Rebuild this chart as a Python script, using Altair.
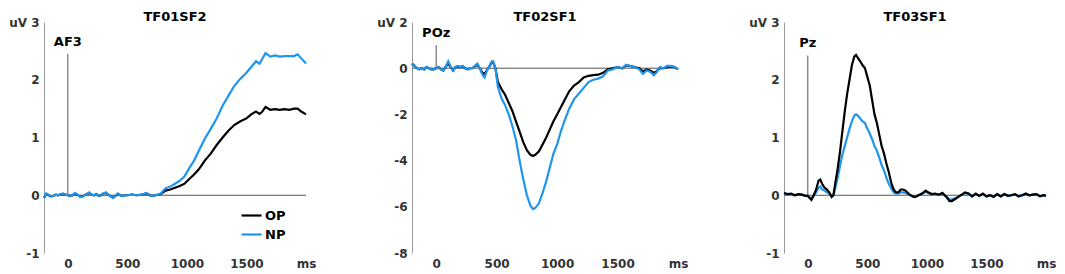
import altair as alt
import pandas as pd

FONT = "DejaVu Sans"
BLACK = "#000000"
BLUE = "#1E96F0"

titles = ["TF01SF2", "TF02SF1", "TF03SF1"]
electrodes = ["AF3", "POz", "Pz"]
marker_tops = [2.45, 1.0, 2.42]
y_domains = [[-1, 3], [-8, 2], [-1, 3]]
y_ticks = [[-1, 0, 1, 2, 3], [-8, -6, -4, -2, 0, 2], [-1, 0, 1, 2, 3]]
x_ticks = [0, 500, 1000, 1500, 2000]
conditions = ["OP", "NP"]

# Panel 1 (AF3)
t1 = [-200, -180, -160, -140, -120, -100, -80, -60, -40, -20, 0, 20, 40, 60, 80, 100, 120, 140, 160, 180,
      200, 220, 240, 260, 280, 300, 320, 340, 360, 380, 400, 420, 440, 460, 480, 500, 540, 580, 620, 660,
      700, 740, 780, 820, 860, 900, 940, 980, 1020, 1060, 1100, 1150, 1200, 1250, 1300, 1350, 1400, 1450,
      1500, 1540, 1580, 1610, 1630, 1660, 1700, 1740, 1780, 1820, 1860, 1900, 1930, 1960, 2000]
np1 = [-0.05, 0.03, 0.0, -0.02, -0.01, 0.01, 0.0, 0.02, 0.03, 0.01, 0.0, -0.01, 0.0, 0.04, 0.01, -0.02,
       -0.03, 0.0, 0.02, 0.05, 0.01, 0.0, 0.02, -0.01, 0.0, 0.03, 0.05, 0.01, -0.02, -0.05, -0.01, 0.03,
       0.0, -0.01, 0.0, 0.0, 0.01, 0.0, 0.01, 0.04, -0.01, 0.0, 0.03, 0.12, 0.15, 0.2, 0.25, 0.33, 0.47,
       0.6, 0.77, 0.98, 1.15, 1.33, 1.55, 1.73, 1.9, 2.02, 2.12, 2.22, 2.32, 2.28, 2.35, 2.46, 2.4, 2.42,
       2.4, 2.41, 2.41, 2.41, 2.44, 2.37, 2.28]
op1 = [-0.04, 0.02, 0.0, -0.02, -0.01, 0.01, 0.0, 0.02, 0.02, 0.01, 0.0, -0.01, 0.0, 0.03, 0.01, -0.02,
       -0.02, 0.0, 0.02, 0.04, 0.01, 0.0, 0.02, -0.01, 0.0, 0.03, 0.04, 0.01, -0.02, -0.04, -0.01, 0.02,
       0.0, -0.01, 0.0, 0.0, 0.01, 0.0, 0.01, 0.03, -0.01, 0.0, 0.02, 0.08, 0.1, 0.13, 0.16, 0.2, 0.28,
       0.36, 0.45, 0.6, 0.72, 0.87, 1.0, 1.12, 1.22, 1.28, 1.33, 1.4, 1.45, 1.41, 1.44, 1.53, 1.48, 1.49,
       1.48, 1.49, 1.48, 1.5, 1.5, 1.45, 1.4]

# Panel 2 (POz)
t2 = [-200, -180, -160, -140, -120, -100, -80, -60, -40, -20, 0, 20, 40, 60, 80, 100, 120, 140, 160, 180,
      200, 220, 240, 260, 280, 300, 320, 340, 360, 380, 400, 420, 440, 460, 470, 490, 510, 540, 570, 600,
      630, 660, 690, 720, 750, 780, 800, 820, 850, 880, 910, 940, 970, 1000, 1030, 1060, 1100, 1140, 1180,
      1220, 1260, 1300, 1340, 1380, 1420, 1460, 1500, 1540, 1570, 1600, 1640, 1680, 1710, 1740, 1770, 1800,
      1820, 1850, 1880, 1910, 1940, 1970, 2000]
np2 = [0.2, 0.1, 0.0, -0.05, 0.0, -0.05, 0.05, 0.0, -0.05, -0.05, 0.0, 0.05, -0.05, -0.1, 0.1, 0.3, 0.05,
       -0.1, 0.05, 0.1, 0.05, 0.1, 0.0, -0.05, 0.0, 0.0, 0.1, 0.2, 0.0, -0.25, -0.4, -0.1, 0.1, 0.3, 0.3,
       0.0, -0.8, -1.3, -1.6, -2.0, -2.5, -3.1, -4.0, -4.8, -5.5, -5.95, -6.1, -6.05, -5.85, -5.4, -4.9,
       -4.3, -3.7, -3.3, -2.75, -2.3, -1.75, -1.35, -1.1, -0.85, -0.6, -0.5, -0.45, -0.35, -0.1, -0.05,
       0.05, 0.0, 0.15, 0.1, 0.05, -0.05, -0.25, -0.1, -0.15, -0.3, -0.2, 0.05, 0.0, 0.1, 0.1, 0.05, -0.05]
op2 = [0.2, 0.1, 0.0, -0.05, 0.0, -0.05, 0.05, 0.0, -0.05, -0.05, 0.0, 0.05, -0.05, -0.1, 0.08, 0.2, 0.05,
       -0.1, 0.05, 0.08, 0.05, 0.08, 0.0, -0.05, 0.0, 0.0, 0.08, 0.15, 0.0, -0.18, -0.25, -0.08, 0.08, 0.25,
       0.28, 0.0, -0.6, -0.9, -1.15, -1.5, -1.85, -2.3, -2.75, -3.2, -3.55, -3.75, -3.8, -3.75, -3.6, -3.3,
       -3.0, -2.65, -2.3, -2.0, -1.7, -1.4, -1.0, -0.75, -0.6, -0.4, -0.33, -0.3, -0.28, -0.2, -0.05, 0.0,
       0.05, 0.0, 0.12, 0.1, 0.05, 0.0, -0.15, -0.05, -0.1, -0.2, -0.15, 0.0, 0.0, 0.05, 0.08, 0.05, -0.05]

# Panel 3 (Pz)
t3 = [-200, -170, -140, -110, -80, -50, -20, 0, 15, 30, 50, 70, 90, 105, 120, 140, 160, 180, 200, 215, 230,
      250, 270, 290, 310, 330, 350, 370, 390, 405, 420, 440, 460, 480, 500, 520, 540, 560, 580, 600, 620,
      640, 660, 680, 700, 720, 740, 760, 780, 800, 820, 850, 880, 900, 930, 960, 990, 1010, 1040, 1070,
      1100, 1130, 1160, 1190, 1210, 1240, 1270, 1300, 1320, 1350, 1380, 1410, 1440, 1470, 1500, 1530, 1560,
      1590, 1620, 1650, 1680, 1710, 1740, 1770, 1800, 1830, 1860, 1890, 1920, 1950, 1980, 2000]
op3 = [0.04, 0.02, 0.03, 0.0, 0.02, 0.01, -0.01, -0.01, -0.05, -0.08, 0.0, 0.1, 0.25, 0.27, 0.2, 0.13,
       0.1, 0.05, -0.03, 0.0, 0.2, 0.45, 0.75, 1.1, 1.45, 1.75, 2.0, 2.25, 2.4, 2.43, 2.38, 2.32, 2.25, 2.2,
       2.05, 1.9, 1.65, 1.4, 1.25, 1.05, 0.85, 0.72, 0.55, 0.4, 0.22, 0.1, 0.05, 0.05, 0.1, 0.1, 0.08, 0.02,
       -0.02, -0.03, 0.0, 0.03, 0.08, 0.05, 0.02, 0.03, 0.01, 0.04, -0.02, -0.1, -0.1, -0.06, -0.02, 0.02,
       0.05, 0.03, -0.02, 0.03, -0.01, 0.03, -0.02, 0.0, -0.03, 0.02, -0.02, 0.02, -0.01, 0.0, 0.02, -0.02,
       0.0, 0.03, 0.0, 0.01, 0.02, -0.02, 0.0, -0.01]
np3 = [0.03, 0.02, 0.02, 0.0, 0.02, 0.01, -0.01, -0.01, -0.04, -0.05, 0.0, 0.05, 0.13, 0.15, 0.1, 0.08,
       0.05, 0.03, -0.02, 0.0, 0.12, 0.3, 0.5, 0.7, 0.85, 1.0, 1.15, 1.28, 1.38, 1.4, 1.38, 1.33, 1.28, 1.25,
       1.15, 1.07, 0.97, 0.85, 0.77, 0.65, 0.52, 0.43, 0.3, 0.2, 0.12, 0.05, 0.03, 0.03, 0.05, 0.05, 0.04,
       0.01, -0.02, -0.02, 0.0, 0.03, 0.06, 0.04, 0.02, 0.02, 0.01, 0.03, -0.02, -0.07, -0.07, -0.05, -0.02,
       0.02, 0.04, 0.02, -0.02, 0.02, -0.01, 0.02, -0.02, 0.0, -0.02, 0.02, -0.02, 0.02, -0.01, 0.0, 0.02,
       -0.02, 0.0, 0.02, 0.0, 0.01, 0.02, -0.02, 0.0, -0.01]

series = [(t1, op1, np1), (t2, op2, np2), (t3, op3, np3)]
top_cond = ["NP", "NP", "OP"]

PWS = [262, 266, 262]
PH = 231

color_scale = alt.Scale(domain=conditions, range=[BLACK, BLUE])


def panel(i):
    t, op, npv = series[i]
    df = pd.DataFrame({"t": t + t, "v": op + npv,
                       "cond": ["OP"] * len(t) + ["NP"] * len(t)})
    ymin, ymax = y_domains[i]
    top_tick = y_ticks[i][-1]
    xs = alt.Scale(domain=[-200, 2000], nice=False, zero=False)
    ys = alt.Scale(domain=[ymin, ymax], nice=False, zero=False)
    xaxis = alt.Axis(values=x_ticks, domain=False, ticks=False, grid=False, title=None,
                     labelFlush=False, labelOverlap=False, labelPadding=5,
                     labelExpr="datum.value == 2000 ? 'ms' : '' + datum.value")
    yaxis = alt.Axis(values=y_ticks[i], domain=True, domainColor="#9a9a9a", ticks=False,
                     grid=False, title=None, labelPadding=5, labelOverlap=False,
                     labelExpr=f"datum.value == {top_tick} ? 'uV {top_tick}' : '' + datum.value")

    if i == 0:
        legend = alt.Legend(title=None, orient="none", legendX=196, legendY=182,
                            symbolType="stroke", symbolSize=400, symbolStrokeWidth=2.2,
                            labelFont=FONT, labelFontSize=13, labelFontWeight="bold",
                            labelColor="#000000", rowPadding=0, labelOffset=2)
    else:
        legend = None

    base = alt.Chart(df)
    zero = alt.Chart(pd.DataFrame({"y": [0]})).mark_rule(color="#555555", strokeWidth=1).encode(
        y=alt.Y("y:Q", scale=ys, axis=yaxis))
    mark_df = pd.DataFrame({"x": [0], "y0": [0], "y1": [marker_tops[i]], "lab": [electrodes[i]]})
    vline = alt.Chart(mark_df).mark_rule(color="#555555", strokeWidth=1).encode(
        x=alt.X("x:Q", scale=xs, axis=xaxis), y=alt.Y("y0:Q", scale=ys), y2="y1:Q")
    lab = alt.Chart(mark_df).mark_text(font=FONT, fontSize=13, fontWeight="bold", color="#000000",
                                       baseline="bottom", dy=-5).encode(
        x=alt.X("x:Q", scale=xs), y=alt.Y("y1:Q", scale=ys), text="lab:N")

    order = ["OP", "NP"] if top_cond[i] == "NP" else ["NP", "OP"]
    lines = []
    for c in order:
        lines.append(base.transform_filter(alt.datum.cond == c).mark_line(strokeWidth=2.2).encode(
            x=alt.X("t:Q", scale=xs, axis=xaxis),
            y=alt.Y("v:Q", scale=ys, axis=yaxis),
            color=alt.Color("cond:N", scale=color_scale, legend=legend)))

    return alt.layer(zero, vline, lab, *lines).properties(
        width=PWS[i], height=PH,
        title=alt.TitleParams(titles[i], font=FONT, fontSize=13, fontWeight="bold",
                              color="#000000", offset=-8, anchor="middle", frame="group"))


chart = alt.hconcat(panel(0), panel(1), panel(2), spacing=60).resolve_scale(
    color="independent", x="independent", y="independent").resolve_legend(
    color="independent").configure_view(stroke=None).configure_axis(
    labelFont=FONT, labelFontSize=12, labelFontWeight="bold", labelColor="#333333").properties(
    padding={"top": 3, "left": 0, "right": 0, "bottom": 0})

chart.save("out.html", embed_options={"renderer": "svg", "actions": False})
